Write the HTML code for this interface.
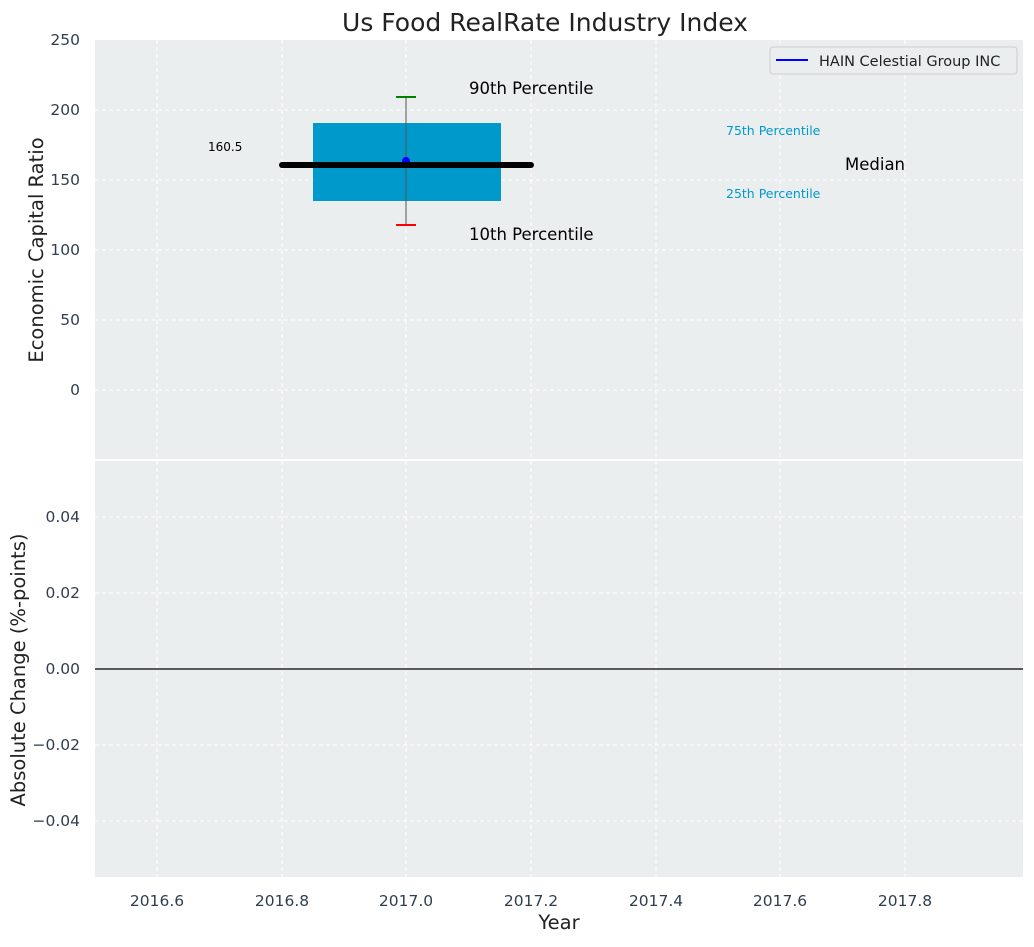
<!DOCTYPE html>
<html><head><meta charset="utf-8"><style>
body{margin:0;background:#fff;}
svg text{font-family:"DejaVu Sans","Liberation Sans",sans-serif;}
</style></head><body>
<svg width="1034" height="942" xmlns="http://www.w3.org/2000/svg">
<rect width="1034" height="942" fill="#fff"/>
<text x="545" y="31" font-size="25" text-anchor="middle" fill="#222">Us Food RealRate Industry Index</text>
<!-- top axes -->
<rect x="95" y="40" width="928" height="419" fill="#eaeeef"/>
<g stroke="#fff" stroke-dasharray="4,3" stroke-width="1">
<line x1="157" y1="40" x2="157" y2="459"/><line x1="282" y1="40" x2="282" y2="459"/><line x1="406" y1="40" x2="406" y2="459"/><line x1="531" y1="40" x2="531" y2="459"/><line x1="656" y1="40" x2="656" y2="459"/><line x1="780" y1="40" x2="780" y2="459"/><line x1="905" y1="40" x2="905" y2="459"/>
<line x1="95" y1="110" x2="1023" y2="110"/><line x1="95" y1="180" x2="1023" y2="180"/><line x1="95" y1="250" x2="1023" y2="250"/><line x1="95" y1="320" x2="1023" y2="320"/><line x1="95" y1="390" x2="1023" y2="390"/>
</g>
<g font-size="15.5" fill="#2f3e50" text-anchor="end">
<text x="80" y="45">250</text><text x="80" y="115">200</text><text x="80" y="185">150</text><text x="80" y="255">100</text><text x="80" y="325">50</text><text x="80" y="395">0</text>
</g>
<text transform="translate(43,250) rotate(-90)" font-size="19.5" text-anchor="middle" fill="#222">Economic Capital Ratio</text>
<rect x="313" y="123" width="188" height="78" fill="#0099cc"/>
<line x1="406" y1="97" x2="406" y2="225" stroke="#555" stroke-width="1"/>
<line x1="396" y1="97" x2="416" y2="97" stroke="green" stroke-width="2"/>
<line x1="396" y1="225" x2="416" y2="225" stroke="red" stroke-width="2"/>
<circle cx="406" cy="161" r="4" fill="blue"/>
<line x1="282" y1="165" x2="531" y2="165" stroke="#000" stroke-width="6" stroke-linecap="round"/>
<text x="208" y="151" font-size="12" fill="#000">160.5</text>
<text x="469" y="94" font-size="16.5" fill="#000">90th Percentile</text>
<text x="469" y="240" font-size="16.5" fill="#000">10th Percentile</text>
<text x="726" y="135" font-size="12.5" fill="#0099cc">75th Percentile</text>
<text x="726" y="198" font-size="12.5" fill="#0099cc">25th Percentile</text>
<text x="845" y="170" font-size="16.5" fill="#000">Median</text>
<rect x="770" y="47" width="247" height="27" fill="#eaeeef" stroke="#ccc" rx="3"/>
<line x1="776" y1="60" x2="808" y2="60" stroke="blue" stroke-width="2"/>
<text x="819" y="66" font-size="14.5" fill="#222">HAIN Celestial Group INC</text>
<!-- bottom axes -->
<rect x="95" y="461" width="928" height="416" fill="#eaeeef"/>
<g stroke="#fff" stroke-dasharray="4,3" stroke-width="1">
<line x1="157" y1="461" x2="157" y2="877"/><line x1="282" y1="461" x2="282" y2="877"/><line x1="406" y1="461" x2="406" y2="877"/><line x1="531" y1="461" x2="531" y2="877"/><line x1="656" y1="461" x2="656" y2="877"/><line x1="780" y1="461" x2="780" y2="877"/><line x1="905" y1="461" x2="905" y2="877"/>
<line x1="95" y1="517" x2="1023" y2="517"/><line x1="95" y1="593" x2="1023" y2="593"/><line x1="95" y1="745" x2="1023" y2="745"/><line x1="95" y1="821" x2="1023" y2="821"/>
</g>
<line x1="95" y1="669" x2="1023" y2="669" stroke="#000" stroke-width="1.3"/>
<g font-size="15.5" fill="#2f3e50" text-anchor="end">
<text x="80" y="522">0.04</text><text x="80" y="598">0.02</text><text x="80" y="674">0.00</text><text x="80" y="750">−0.02</text><text x="80" y="826">−0.04</text>
</g>
<text transform="translate(25,670) rotate(-90)" font-size="19.5" text-anchor="middle" fill="#222">Absolute Change (%-points)</text>
<g font-size="15.5" fill="#2f3e50" text-anchor="middle">
<text x="157" y="906">2016.6</text><text x="282" y="906">2016.8</text><text x="406" y="906">2017.0</text><text x="531" y="906">2017.2</text><text x="656" y="906">2017.4</text><text x="780" y="906">2017.6</text><text x="905" y="906">2017.8</text>
</g>
<text x="559" y="929" font-size="19.5" text-anchor="middle" fill="#222">Year</text>
</svg>
</body></html>
